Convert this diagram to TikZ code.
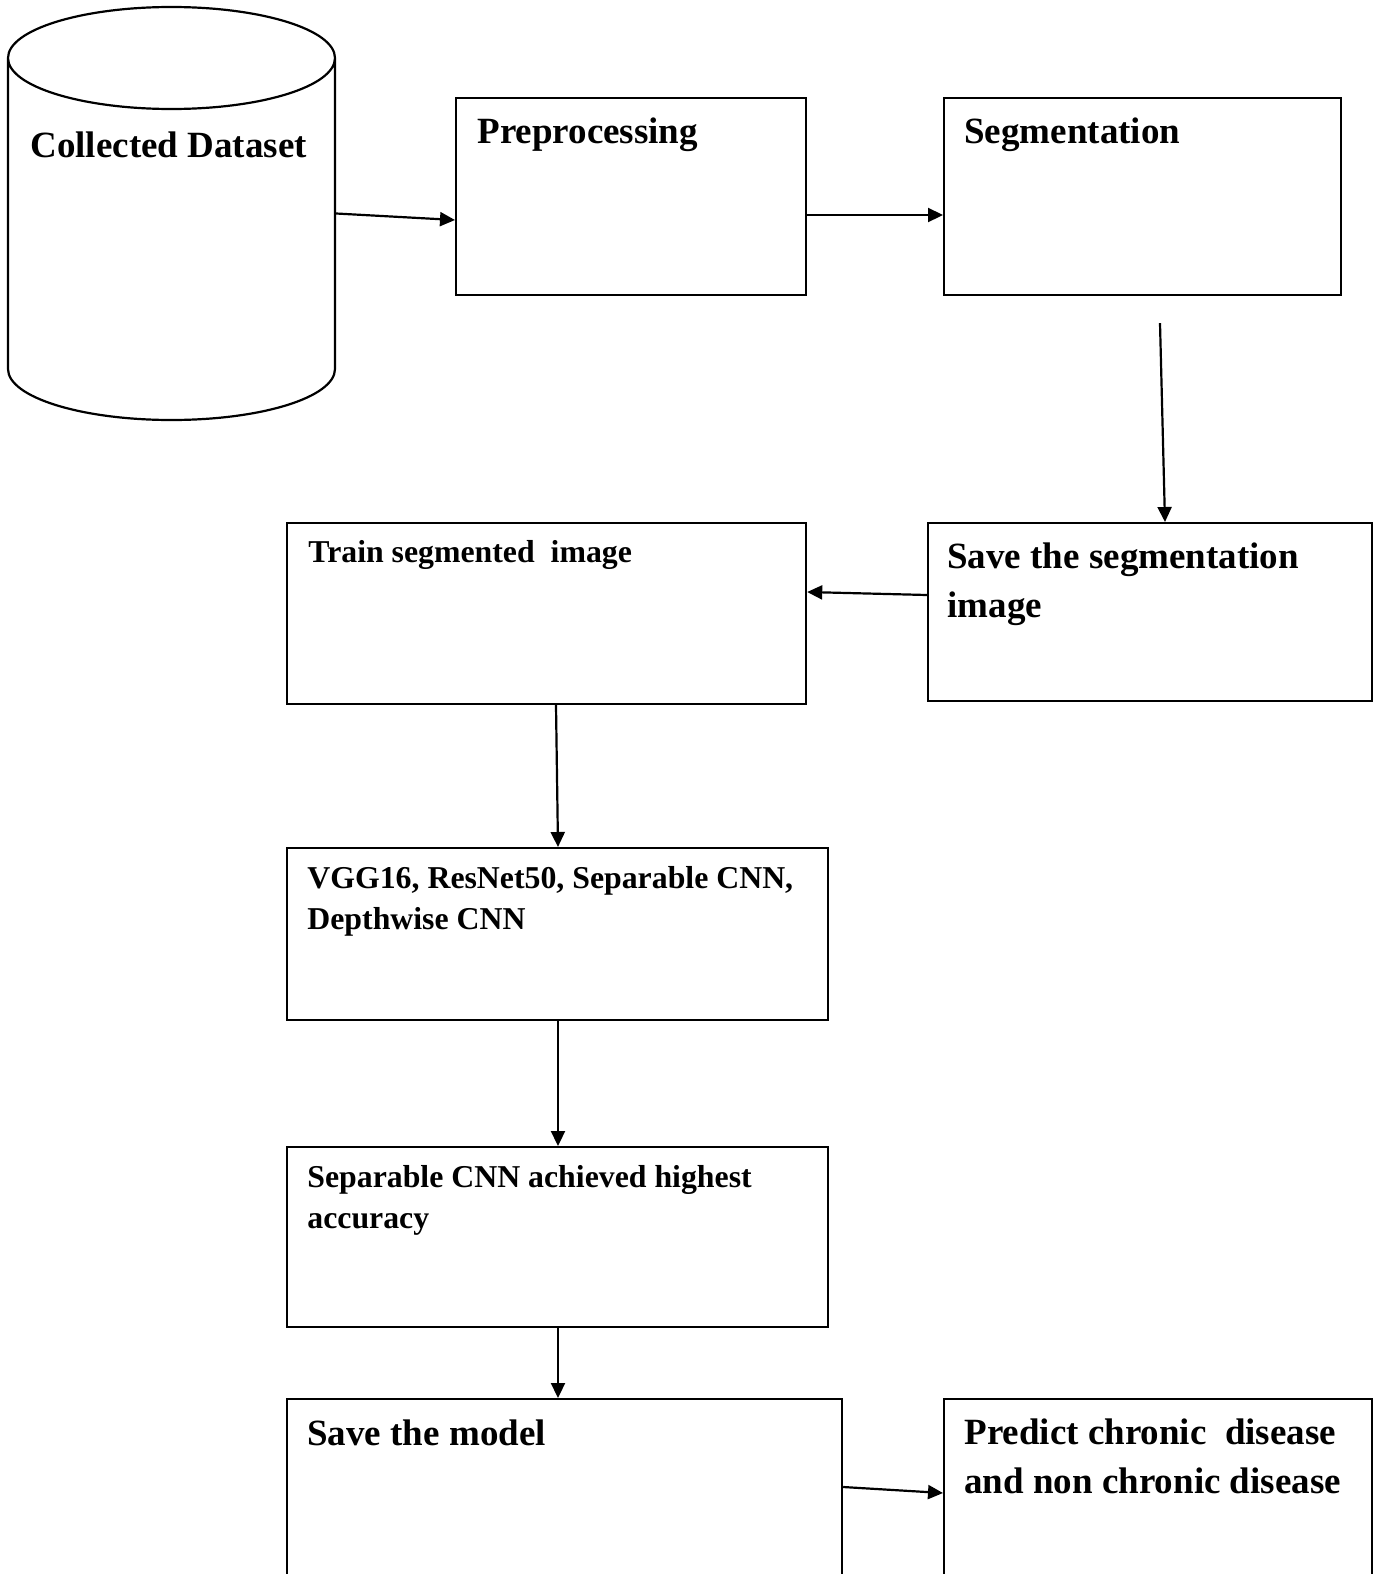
\documentclass[tikz,border=0pt]{standalone}
\usepackage{fontspec}
\setmainfont{Liberation Serif}
\usetikzlibrary{shapes.geometric,arrows.meta}
\tikzset{stage/.style={draw,line width=1.1pt,rectangle,anchor=north west,inner sep=0pt},
         bigtext/.style={anchor=base west,inner sep=0pt,align=left,
                         font=\fontsize{18.5}{24.5}\selectfont\bfseries},
         smalltext/.style={anchor=base west,inner sep=0pt,align=left,
                         font=\fontsize{15.9}{20.5}\selectfont\bfseries},
         flow/.style={-{Triangle[length=7.5pt,width=7pt]},line width=1.1pt}}

\begin{document}
\begin{tikzpicture}[x=0.5pt,y=-0.5pt]
  \useasboundingbox (0,0) rectangle (1385,1574);
  \node[cylinder,shape border rotate=90,draw,line width=1.1pt,inner sep=5pt,aspect=5.1,
        minimum width=163.5pt,minimum height=206.5pt,anchor=shape center] (data) at (171.5,213.5) {};
  \node[stage,minimum width=175pt,minimum height=98.5pt] (pre) at (455,97) {};
  \node[stage,minimum width=198.5pt,minimum height=98.5pt] (seg) at (943,97) {};
  \node[stage,minimum width=259.5pt,minimum height=90.5pt] (train) at (286,522) {};
  \node[stage,minimum width=222pt,minimum height=89pt] (saveseg) at (927,522) {};
  \node[stage,minimum width=270.5pt,minimum height=86pt] (cnns) at (286,847) {};
  \node[stage,minimum width=270.5pt,minimum height=90pt] (best) at (286,1146) {};
  \node[stage,minimum width=277.5pt,minimum height=92pt] (model) at (286,1398) {};
  \node[stage,minimum width=214pt,minimum height=92pt] (predict) at (943,1398) {};

  \node[bigtext] (dataT) at (30,157) {Collected Dataset};
  \node[bigtext] (preT) at (477,143) {Preprocessing};
  \node[bigtext] (segT) at (964,143) {Segmentation};
  \node[smalltext] (trainT) at (308,562) {Train segmented\ \ image};
  \node[bigtext] (savesegT) at (947,617) {Save the segmentation\\image};
  \node[smalltext] (cnnsT) at (307,929) {VGG16, ResNet50, Separable CNN,\\Depthwise CNN};
  \node[smalltext] (bestT) at (307,1228) {Separable CNN achieved highest\\accuracy};
  \node[bigtext] (modelT) at (307,1445) {Save the model};
  \node[bigtext] (predictT) at (964,1493) {Predict chronic\ \ disease\\and non chronic disease};

  \draw[flow] (data.shape center -| data.east) -- ([yshift=-61.5pt]pre.north west);
  \draw[flow] ([yshift=-59pt]pre.north east) -- ([yshift=-59pt]seg.north west);
  \draw[flow] ([shift={(108.5pt,-13.5pt)}]seg.south west) -- ([xshift=119pt]saveseg.north west);
  \draw[flow] ([yshift=-36.5pt]saveseg.north west) -- ([yshift=-35pt]train.north east);
  \draw[flow] ([xshift=135pt]train.south west) -- ([xshift=136pt]cnns.north west);
  \draw[flow] ([xshift=136pt]cnns.south west) -- ([xshift=136pt]best.north west);
  \draw[flow] ([xshift=136pt]best.south west) -- ([xshift=136pt]model.north west);
  \draw[flow] ([yshift=-44.5pt]model.north east) -- ([yshift=-47.5pt]predict.north west);
\end{tikzpicture}
\end{document}
